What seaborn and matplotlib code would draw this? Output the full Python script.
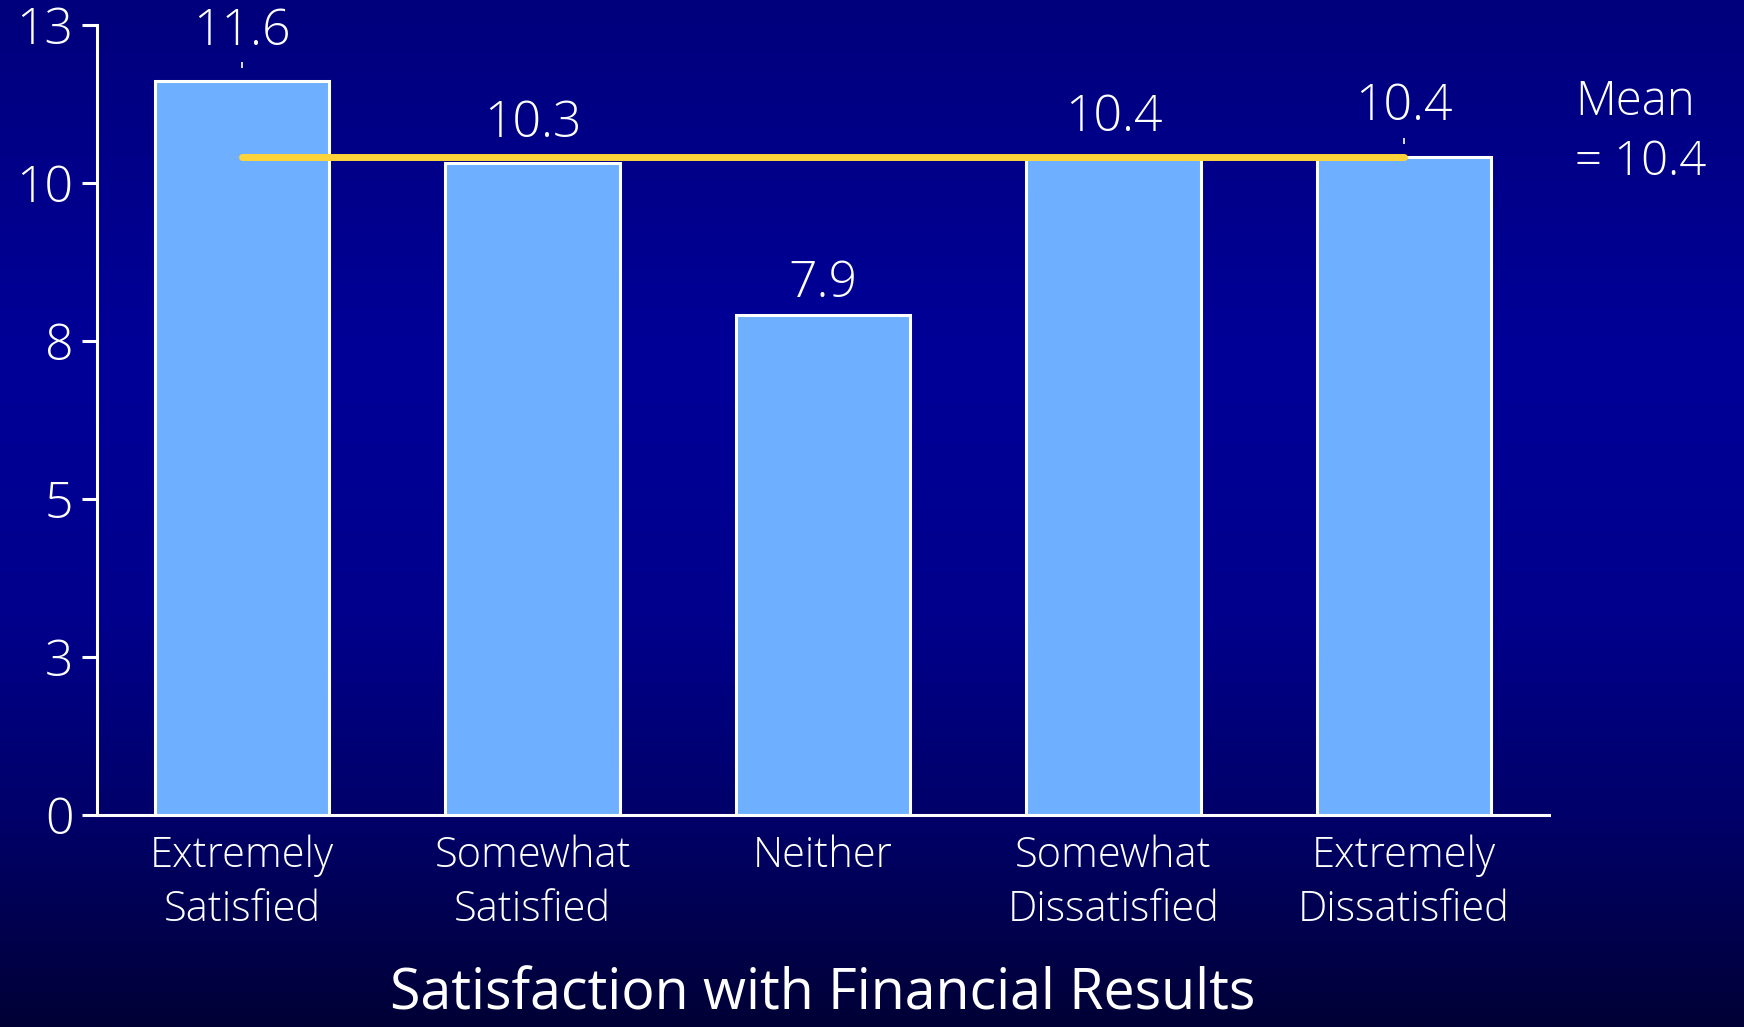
import numpy as np
import pandas as pd
import matplotlib
matplotlib.use("Agg")
import matplotlib.pyplot as plt
import seaborn as sns

# Chart data
categories = ["Extremely\nSatisfied", "Somewhat\nSatisfied", "Neither",
              "Somewhat\nDissatisfied", "Extremely\nDissatisfied"]
values = [11.6, 10.3, 7.9, 10.4, 10.4]
mean_value = 10.4
y_tick_labels = ["0", "3", "5", "8", "10", "13"]
x_title = "Satisfaction with Financial Results"

# Styling
sns.set_theme(style="white")
plt.rcParams["font.family"] = ["Open Sans", "DejaVu Sans"]
plt.rcParams["font.weight"] = "light"
TEXT = "white"
BAR = "#6eb0ff"
MEAN = "#ffd43a"

fig = plt.figure(figsize=(17.44, 10.27), dpi=100)

# Vertical navy gradient behind everything
bg = fig.add_axes([0, 0, 1, 1], zorder=-10)
stops_y = np.array([0.0, 0.35, 0.6, 0.8, 1.0])          # top -> bottom
stops_b = np.array([0x7c, 0x98, 0x8c, 0x68, 0x36]) / 255.0
yy = np.linspace(0, 1, 512)
blue = np.interp(yy, stops_y, stops_b)
grad = np.zeros((512, 1, 3))
grad[:, 0, 2] = blue
bg.imshow(grad, aspect="auto", extent=[0, 1, 0, 1], origin="upper")
bg.set_axis_off()

ax = fig.add_axes([0.0556, 0.2064, 0.8326, 0.7693])
ax.set_facecolor("none")

df = pd.DataFrame({"category": categories, "value": values})
sns.barplot(data=df, x="category", y="value", color=BAR, saturation=1,
            edgecolor="white", linewidth=2.2, width=0.6, ax=ax)

ymax = 12.48
ax.set_ylim(0, ymax)
ax.set_xlim(-0.5, 4.5)
ax.set_yticks(np.linspace(0, ymax, 6))
ax.set_yticklabels(y_tick_labels)

# Mean line across the bar centres
ax.plot([0, len(values) - 1], [mean_value, mean_value], color=MEAN, lw=5,
        solid_capstyle="round", zorder=5)

# Value labels above bars
label_offsets = [35, 28, 22, 28, 36]
for i, (v, off) in enumerate(zip(values, label_offsets)):
    ax.annotate(f"{v:.1f}", (i, v), xytext=(0, off), textcoords="offset points",
                ha="center", va="center", color=TEXT, fontsize=36)

# small marks above the first and last bars
for i in (0, len(values) - 1):
    ax.vlines(i, values[i] + 0.2, values[i] + 0.3, color=TEXT, lw=1.2)

ax.text(1.018, mean_value + 0.38, "Mean\n= 10.4", transform=ax.get_yaxis_transform(),
        ha="left", va="center", color=TEXT, fontsize=34, linespacing=1.3,
        clip_on=False)

for side in ("top", "right"):
    ax.spines[side].set_visible(False)
for side in ("left", "bottom"):
    ax.spines[side].set_color(TEXT)
    ax.spines[side].set_linewidth(2.2)

ax.tick_params(axis="y", colors=TEXT, labelsize=36, length=11, width=2.2,
               pad=6, direction="out", left=True)
ax.tick_params(axis="x", colors=TEXT, labelsize=30, length=0, pad=14)
for lbl in ax.get_xticklabels():
    lbl.set_linespacing(1.35)

ax.set_ylabel("")
ax.set_xlabel(x_title, color=TEXT, fontsize=40, labelpad=26)

fig.savefig("out.png", dpi=100)
